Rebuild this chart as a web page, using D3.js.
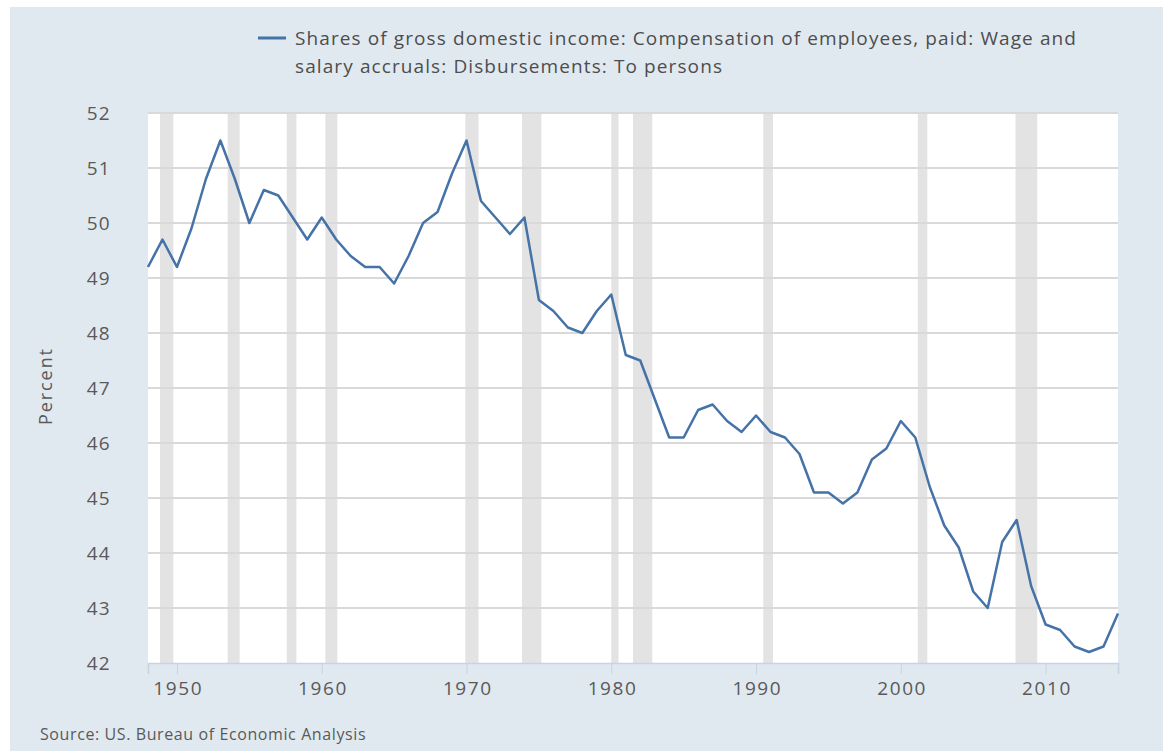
<!DOCTYPE html>
<html>
<head>
<meta charset="utf-8">
<script src="https://cdn.jsdelivr.net/npm/d3@7"></script>
<style>
  html, body { margin: 0; padding: 0; background: #fff; }
  svg { display: block; font-family: "Open Sans", sans-serif; }
</style>
</head>
<body>
<div id="chart"></div>
<script>
const WIDTH = 1163;
const HEIGHT = 751;

// annual values, 1948..2015
const years = d3.range(1948, 2016);
const values = [
  49.2, 49.7, 49.2, 49.9, 50.8, 51.5, 50.8, 50.0, 50.6, 50.5,
  50.1, 49.7, 50.1, 49.7, 49.4, 49.2, 49.2, 48.9, 49.4, 50.0,
  50.2, 50.9, 51.5, 50.4, 50.1, 49.8, 50.1, 48.6, 48.4, 48.1,
  48.0, 48.4, 48.7, 47.6, 47.5, 46.8, 46.1, 46.1, 46.6, 46.7,
  46.4, 46.2, 46.5, 46.2, 46.1, 45.8, 45.1, 45.1, 44.9, 45.1,
  45.7, 45.9, 46.4, 46.1, 45.2, 44.5, 44.1, 43.3, 43.0, 44.2,
  44.6, 43.4, 42.7, 42.6, 42.3, 42.2, 42.3, 42.9
];

// recession periods (start, end) as decimal years
const recessionStarts = [1948.83, 1953.5, 1957.58, 1960.25, 1969.92, 1973.83, 1980.0, 1981.5, 1990.5, 2001.17, 2007.92];
const recessionEnds   = [1949.75, 1954.33, 1958.25, 1961.08, 1970.83, 1975.17, 1980.5, 1982.83, 1991.17, 2001.83, 2009.42];

const yTicks = [42, 43, 44, 45, 46, 47, 48, 49, 50, 51, 52];
const xTicks = [1950, 1960, 1970, 1980, 1990, 2000, 2010];

const legendLines = [
  "Shares of gross domestic income: Compensation of employees, paid: Wage and",
  "salary accruals: Disbursements: To persons"
];
const sourceText = "Source: US. Bureau of Economic Analysis";

function main(){
    let svg = d3.select("#chart")
        .append("svg")
        .attr("width", WIDTH)
        .attr("height", HEIGHT);

    // panel background
    svg.append("rect")
        .attr("x", 10)
        .attr("y", 7)
        .attr("width", WIDTH - 10)
        .attr("height", HEIGHT - 7)
        .style("fill", "#e1e9f0");

    let margin = {left: 148, right: 1118, top: 113, bottom: 663};

    let x = d3.scaleLinear()
        .domain([1948, 2015])
        .range([margin.left, margin.right]);
    let y = d3.scaleLinear()
        .domain([42, 52])
        .range([margin.bottom, margin.top]);

    // plot area
    svg.append("rect")
        .attr("x", margin.left)
        .attr("y", margin.top)
        .attr("width", margin.right - margin.left)
        .attr("height", margin.bottom - margin.top)
        .style("fill", "#ffffff");

    // recession shading
    svg.append("g")
        .selectAll("rect")
        .data(recessionStarts)
        .enter()
        .append("rect")
        .attr("x", d => x(d))
        .attr("y", margin.top)
        .attr("width", (d, i) => x(recessionEnds[i]) - x(d))
        .attr("height", margin.bottom - margin.top)
        .style("fill", "#e3e3e3");

    // gridlines
    svg.append("g")
        .selectAll("line")
        .data(yTicks.filter(d => d > 42))
        .enter()
        .append("line")
        .attr("x1", margin.left)
        .attr("x2", margin.right)
        .attr("y1", d => y(d))
        .attr("y2", d => y(d))
        .style("stroke", "#d9d9d9")
        .style("stroke-width", 2);

    // y axis labels
    let yAxis = svg.append("g")
        .attr("transform", `translate(${margin.left},0)`)
        .call(d3.axisLeft(y).tickValues(yTicks).tickSize(0).tickPadding(37));
    yAxis.select(".domain").remove();
    yAxis.selectAll("text")
        .style("font-family", "'Open Sans', sans-serif")
        .style("font-size", "19px")
        .style("letter-spacing", "1.3px")
        .style("fill", "#595959");

    // x axis
    let xAxis = svg.append("g")
        .attr("transform", `translate(0,${margin.bottom})`)
        .call(d3.axisBottom(x).tickValues(xTicks).tickFormat(d3.format("d")).tickSize(11).tickPadding(8));
    xAxis.select(".domain")
        .style("stroke", "#c6d4e2")
        .style("stroke-width", 1.5);
    xAxis.selectAll(".tick line")
        .style("stroke", "#c6d4e2");
    xAxis.selectAll("text")
        .attr("dx", "0.8px")
        .style("font-family", "'Open Sans', sans-serif")
        .style("font-size", "19px")
        .style("letter-spacing", "1.6px")
        .style("fill", "#595959");

    // data line
    let line = d3.line()
        .x((d, i) => x(years[i]))
        .y(d => y(d));
    svg.append("path")
        .datum(values)
        .attr("d", line)
        .style("fill", "none")
        .style("stroke", "#4572a7")
        .style("stroke-width", 2.5)
        .style("stroke-linejoin", "round");

    // y axis title
    svg.append("text")
        .attr("transform", "translate(52,386) rotate(-90)")
        .attr("text-anchor", "middle")
        .style("font-size", "18px")
        .style("letter-spacing", "1.9px")
        .style("fill", "#595959")
        .text("Percent");

    // legend
    svg.append("line")
        .attr("x1", 258)
        .attr("x2", 286)
        .attr("y1", 38)
        .attr("y2", 38)
        .style("stroke", "#4572a7")
        .style("stroke-width", 3);
    svg.append("g")
        .selectAll("text")
        .data(legendLines)
        .enter()
        .append("text")
        .attr("x", 295)
        .attr("y", (d, i) => 45 + i * 28)
        .style("font-size", "19px")
        .style("letter-spacing", "1.1px")
        .style("fill", "#4d4d4d")
        .text(d => d);

    // source
    svg.append("text")
        .attr("x", 40)
        .attr("y", 740)
        .style("font-size", "16px")
        .style("letter-spacing", "0.6px")
        .style("fill", "#595959")
        .text(sourceText);
}

window.addEventListener("load", main);
</script>
</body>
</html>
